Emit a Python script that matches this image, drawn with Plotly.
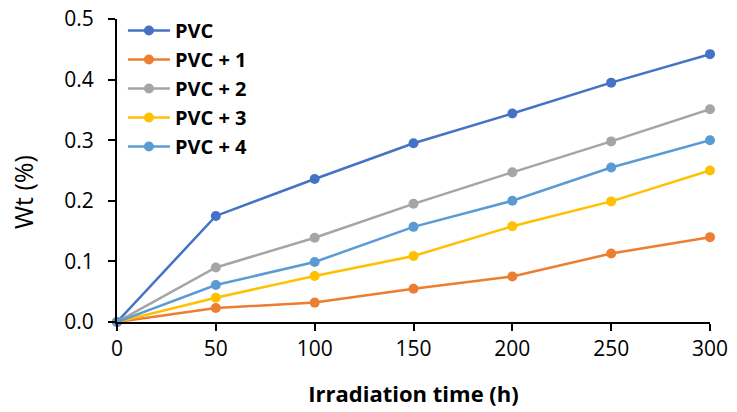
import plotly.graph_objects as go

hours = [0, 50, 100, 150, 200, 250, 300]
series_names = ["PVC", "PVC + 1", "PVC + 2", "PVC + 3", "PVC + 4"]
pvc = [0, 0.175, 0.236, 0.295, 0.344, 0.395, 0.442]
pvc1 = [0, 0.023, 0.032, 0.055, 0.075, 0.113, 0.140]
pvc2 = [0, 0.090, 0.139, 0.195, 0.247, 0.298, 0.351]
pvc3 = [0, 0.040, 0.076, 0.109, 0.158, 0.199, 0.250]
pvc4 = [0, 0.061, 0.099, 0.157, 0.200, 0.255, 0.300]
colors = ["#4472C4", "#ED7D31", "#A5A5A5", "#FFC000", "#5B9BD5"]

fig = go.Figure()
for name, vals, c in zip(series_names, [pvc, pvc1, pvc2, pvc3, pvc4], colors):
    fig.add_trace(go.Scatter(x=hours, y=vals, name="<b>" + name + "</b>", mode="lines+markers",
                             line=dict(color=c, width=2.5),
                             marker=dict(color=c, size=10)))

font_family = "Open Sans, Lato, sans-serif"
fig.update_layout(
    width=737, height=412,
    margin=dict(l=117, r=27, t=19, b=90, autoexpand=False),
    plot_bgcolor="white", paper_bgcolor="white",
    font=dict(family=font_family, color="black", size=21),
    showlegend=True,
    legend=dict(x=0.01, y=1 - 11 / 412, xanchor="left", yanchor="top", yref="container",
                bgcolor="rgba(0,0,0,0)", font=dict(size=20, family=font_family),
                tracegroupgap=0, itemwidth=42),
    xaxis=dict(range=[0, 300], tickvals=[0, 50, 100, 150, 200, 250, 300],
               showgrid=False, zeroline=False, showline=True, linecolor="black", linewidth=2,
               ticks="outside", ticklen=7, tickwidth=2, tickcolor="black",
               tickfont=dict(size=21), automargin=False, ticklabeloverflow="allow",
               title=dict(text="<b>Irradiation time (h)</b>", font=dict(size=22), standoff=25)),
    yaxis=dict(range=[0, 0.5], tickvals=[0, 0.1, 0.2, 0.3, 0.4, 0.5], tickformat=".1f",
               showgrid=False, zeroline=False, showline=True, linecolor="black", linewidth=2,
               ticks="outside", ticklen=7, tickwidth=2, tickcolor="black",
               tickfont=dict(size=21), automargin=False, ticklabelstandoff=10,
               ticklabeloverflow="allow"),
    annotations=[dict(text="Wt (%)", textangle=-90, xref="paper", yref="paper",
                      x=(23 - 117) / 593, y=(322 - 192) / 303, xanchor="center", yanchor="middle",
                      showarrow=False, font=dict(size=25, family=font_family, color="black"))],
)
fig.update_traces(cliponaxis=False)
fig.write_html("out.html", config={"displayModeBar": False},
               post_script="document.body.style.margin='0';document.body.style.padding='0';")
